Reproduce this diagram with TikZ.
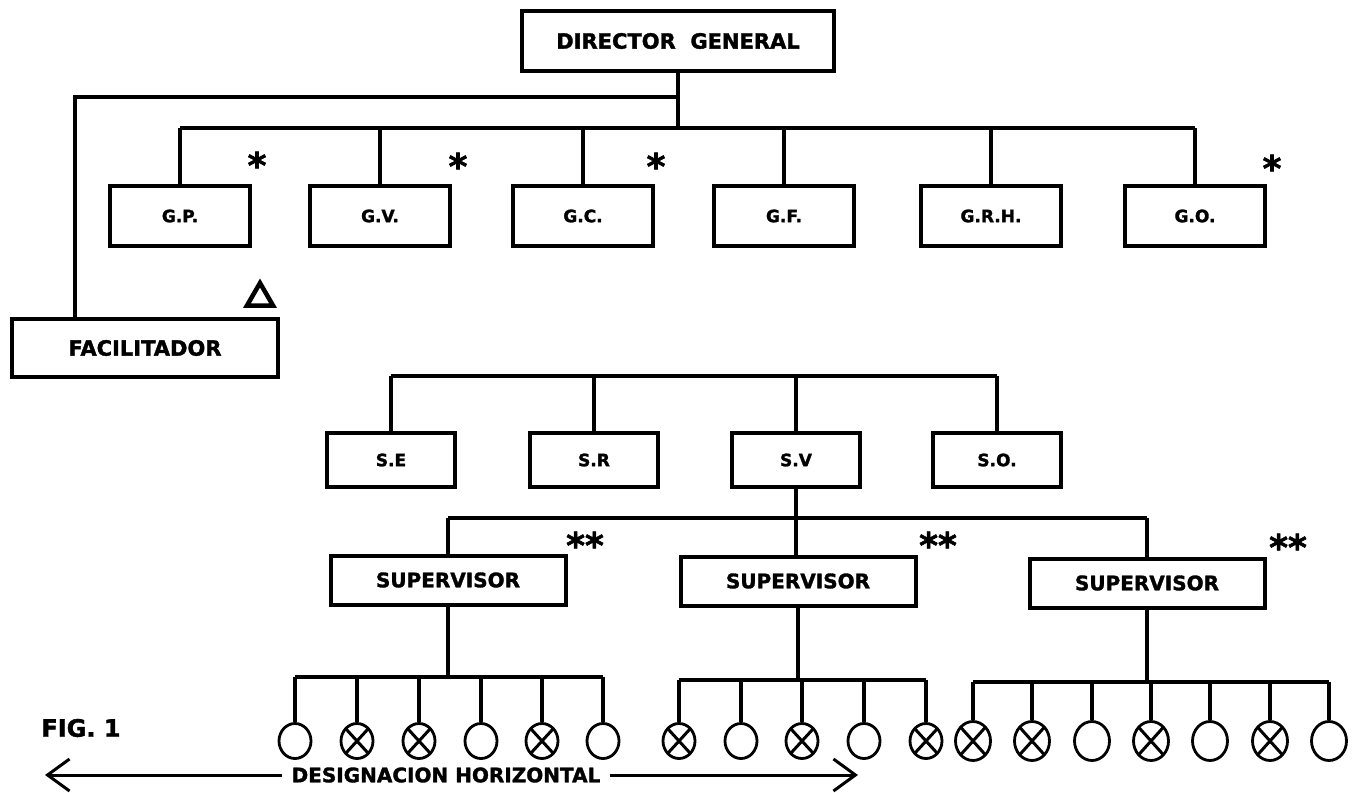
\documentclass[tikz,border=0pt]{standalone}
\usepackage{fontspec}
\setmainfont{DejaVu Sans}
\newfontfamily\heavy{DejaVu Sans Bold}[FakeBold=1.6]
\usetikzlibrary{shapes.geometric,arrows.meta}

\begin{document}
\begin{tikzpicture}[
  x=1pt,y=-1pt,
  box/.style={rectangle,draw,line width=4pt,inner sep=0pt,align=center,
              font=\heavy\fontsize{17}{20}\selectfont},
  gbox/.style={box,minimum width=140pt,minimum height=60pt},
  sbox/.style={box,minimum width=128pt,minimum height=54pt},
  supbox/.style={box,minimum width=235pt,minimum height=49pt,
                 font=\heavy\fontsize{20}{22}\selectfont},
  conn/.style={line width=3.2pt},
  emp/.style={ellipse,draw,line width=2.8pt,inner sep=0pt,
              minimum width=32pt,minimum height=35pt},
  empx/.style={emp,path picture={
      \draw[line width=3pt]
        (path picture bounding box.north west) -- (path picture bounding box.south east)
        (path picture bounding box.north east) -- (path picture bounding box.south west);}},
  big/.style={minimum width=35pt,minimum height=39pt},
  astk/.style={font=\heavy\fontsize{36}{36}\selectfont,inner sep=0pt},
  lbl/.style={font=\heavy\fontsize{20}{24}\selectfont,inner sep=0pt},
  harr/.style={line width=3pt,-{Straight Barb[length=22pt,width=32pt]}}
]
\useasboundingbox (0,0) rectangle (1359,792);
% top: director and gerencias
\node[box,minimum width=312pt,minimum height=60pt,
      font=\heavy\fontsize{21}{24}\selectfont] (dg) at (678,41) {DIRECTOR\ \ GENERAL};
\node[gbox] (gp)  at (180,216)  {G.P.};
\node[gbox] (gv)  at (380,216)  {G.V.};
\node[gbox] (gc)  at (583,216)  {G.C.};
\node[gbox] (gf)  at (784,216)  {G.F.};
\node[gbox] (grh) at (991,216)  {G.R.H.};
\node[gbox] (go)  at (1195,216) {G.O.};
\coordinate (gbar) at (678,128);
\draw[conn] (dg.south) -- (gbar);
\draw[conn] (gbar -| gp.north) -- (gbar -| go.north);
\foreach \n in {gp,gv,gc,gf,grh,go}{
  \draw[conn] (\n.north) -- (\n.north |- gbar);
}
\node[astk] (a1) at (257,165)  {*};
\node[astk] (a2) at (458,166)  {*};
\node[astk] (a3) at (656,166)  {*};
\node[astk] (a4) at (1272,168) {*};
% facilitador
\node[box,minimum width=266pt,minimum height=58pt,
      font=\heavy\fontsize{21}{24}\selectfont] (facil) at (145,348) {FACILITADOR};
\coordinate (fbr) at (75,97);
\draw[conn] (dg.south |- fbr) -- (fbr) -- (fbr |- facil.north);
\node[regular polygon,regular polygon sides=3,draw,line width=4.5pt,
      minimum size=30pt,inner sep=0pt] (tri) at (260,298) {};
% subgerencias
\node[sbox] (se) at (391,460) {S.E};
\node[sbox] (sr) at (594,460) {S.R};
\node[sbox] (sv) at (796,460) {S.V};
\node[sbox] (so) at (997,460) {S.O.};
\coordinate (sbar) at (0,376);
\draw[conn] (se.north |- sbar) -- (so.north |- sbar);
\foreach \n in {se,sr,sv,so}{
  \draw[conn] (\n.north) -- (\n.north |- sbar);
}
% supervisores
\node[supbox] (sup1) at (448,580) {SUPERVISOR};
\node[supbox] (sup2) at (798,581) {SUPERVISOR};
\node[supbox] (sup3) at (1147,583) {SUPERVISOR};
\coordinate (vbar) at (796,518);
\draw[conn] (sv.south) -- (sv.south |- sup2.north);
\draw[conn] (sup1.north |- vbar) -- (sup3.north |- vbar);
\draw[conn] (sup1.north) -- (sup1.north |- vbar);
\draw[conn] (sup3.north) -- (sup3.north |- vbar);
\node[astk] (aa1) at (585,545)  {**};
\node[astk] (aa2) at (938,545)  {**};
\node[astk] (aa3) at (1288,547) {**};
% empleados
\coordinate (b1) at (448,677);
\coordinate (b2) at (798,680);
\coordinate (b3) at (1147,682);
\foreach \x/\s [count=\i] in {295/emp,357/empx,419/empx,481/emp,542/empx,603/emp}{
  \node[\s] (e\i) at (\x,741) {};
  \draw[conn] (e\i.north) -- (e\i.north |- b1);
}
\foreach \x/\s [count=\i] in {679/empx,741/emp,802/empx,864/emp,926/empx}{
  \node[\s] (f\i) at (\x,741) {};
  \draw[conn] (f\i.north) -- (f\i.north |- b2);
}
\foreach \x/\s [count=\i] in {973/empx,1032/empx,1092/emp,1151/empx,1210/emp,1270/empx,1329/emp}{
  \node[\s,big] (h\i) at (\x,741) {};
  \draw[conn] (h\i.north) -- (h\i.north |- b3);
}
\draw[conn] (e1.north |- b1) -- (e6.north |- b1);
\draw[conn] (f1.north |- b2) -- (f5.north |- b2);
\draw[conn] (h1.north |- b3) -- (h7.north |- b3);
\draw[conn] (sup1.south) -- (b1);
\draw[conn] (sup2.south) -- (b2);
\draw[conn] (sup3.south) -- (b3);
% pie
\node[lbl,font=\heavy\fontsize{24}{28}\selectfont] (fig) at (81,728) {FIG. 1};
\node[lbl,inner xsep=9pt] (desig) at (446,775) {DESIGNACION HORIZONTAL};
\coordinate (lt) at (45,775);
\coordinate (rt) at (858,775);
\draw[harr] (desig.west) -- (lt);
\draw[harr] (desig.east) -- (rt);
\end{tikzpicture}
\end{document}
